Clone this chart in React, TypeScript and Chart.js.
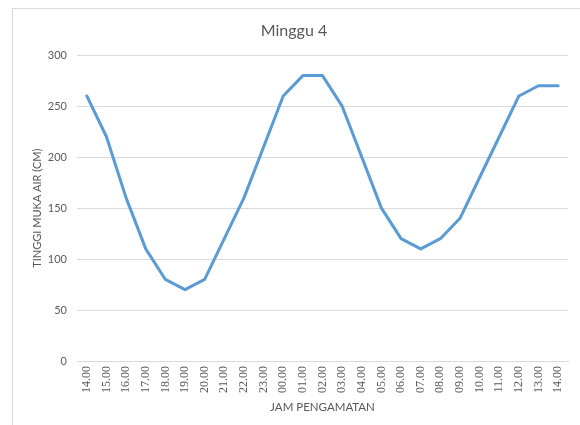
import React, { useEffect, useRef } from "react";
import { Chart, registerables } from "chart.js";

Chart.register(...registerables);

const labels = [
  "14.00", "15.00", "16.00", "17.00", "18.00", "19.00", "20.00", "21.00", "22.00", "23.00",
  "00.00", "01.00", "02.00", "03.00", "04.00", "05.00", "06.00", "07.00", "08.00", "09.00",
  "10.00", "11.00", "12.00", "13.00", "14.00",
];
const tinggi = [
  260, 220, 160, 110, 80, 70, 80, 120, 160, 210,
  260, 280, 280, 250, 200, 150, 120, 110, 120, 140,
  180, 220, 260, 270, 270,
];
const chartTitle = "Minggu 4";
const xTitle = "JAM PENGAMATAN";
const yTitle = "TINGGI MUKA AIR (CM)";

const GRAY = "#595959";
const GRID = "#d9d9d9";
const SANS = "Lato, 'Liberation Sans', sans-serif";
const SERIF = "'Liberation Serif', 'DejaVu Serif', serif";

export default function App() {
  const ref = useRef<HTMLCanvasElement | null>(null);

  useEffect(() => {
    if (!ref.current) return;
    const chart = new Chart(ref.current, {
      type: "line",
      data: {
        labels,
        datasets: [
          {
            label: "Tinggi",
            data: tinggi,
            borderColor: "#5b9bd5",
            backgroundColor: "#5b9bd5",
            borderWidth: 3,
            pointRadius: 0,
            tension: 0,
            borderJoinStyle: "round",
            borderCapStyle: "round",
          },
        ],
      },
      options: {
        responsive: false,
        animation: false,
        layout: { padding: { left: 20, right: 12, top: 0, bottom: 8 } },
        plugins: {
          legend: { display: false },
          tooltip: { enabled: false },
          title: {
            display: true,
            text: chartTitle,
            color: GRAY,
            font: { family: SANS, size: 16, weight: "normal" },
            padding: { top: 21, bottom: 15 },
          },
        },
        scales: {
          x: {
            offset: true,
            grid: { display: false, drawTicks: false },
            border: { display: true, color: GRID, width: 1 },
            ticks: {
              color: GRAY,
              font: { family: SERIF, size: 12 },
              maxRotation: 90,
              minRotation: 90,
              autoSkip: false,
              padding: 5,
            },
            title: {
              display: true,
              text: xTitle,
              color: GRAY,
              font: { family: SANS, size: 11.5 },
              padding: { top: 0, bottom: 3 },
            },
            afterFit: (s: any) => {
              s.height = 56;
            },
          },
          y: {
            min: 0,
            max: 300,
            grid: { color: GRID, drawTicks: false, lineWidth: 1 },
            border: { display: false },
            ticks: {
              stepSize: 50,
              color: GRAY,
              font: { family: SANS, size: 11 },
              padding: 10,
            },
            title: {
              display: true,
              text: yTitle,
              color: GRAY,
              font: { family: SANS, size: 11 },
              padding: { top: 11, bottom: 0 },
            },
            afterFit: (s: any) => {
              s.width = 57;
            },
          },
        },
      },
    });
    return () => chart.destroy();
  }, []);

  return (
    <div style={{ position: "absolute", left: 0, top: 0, width: 580, height: 425, background: "#fff" }}>
      <div
        style={{
          position: "absolute",
          left: 12,
          top: 8,
          width: 568,
          height: 417,
          borderLeft: "1px solid #d9d9d9",
          borderTop: "1px solid #d9d9d9",
          boxSizing: "border-box",
        }}
      />
      <canvas ref={ref} width={580} height={425} style={{ position: "absolute", left: 0, top: 0 }} />
    </div>
  );
}
